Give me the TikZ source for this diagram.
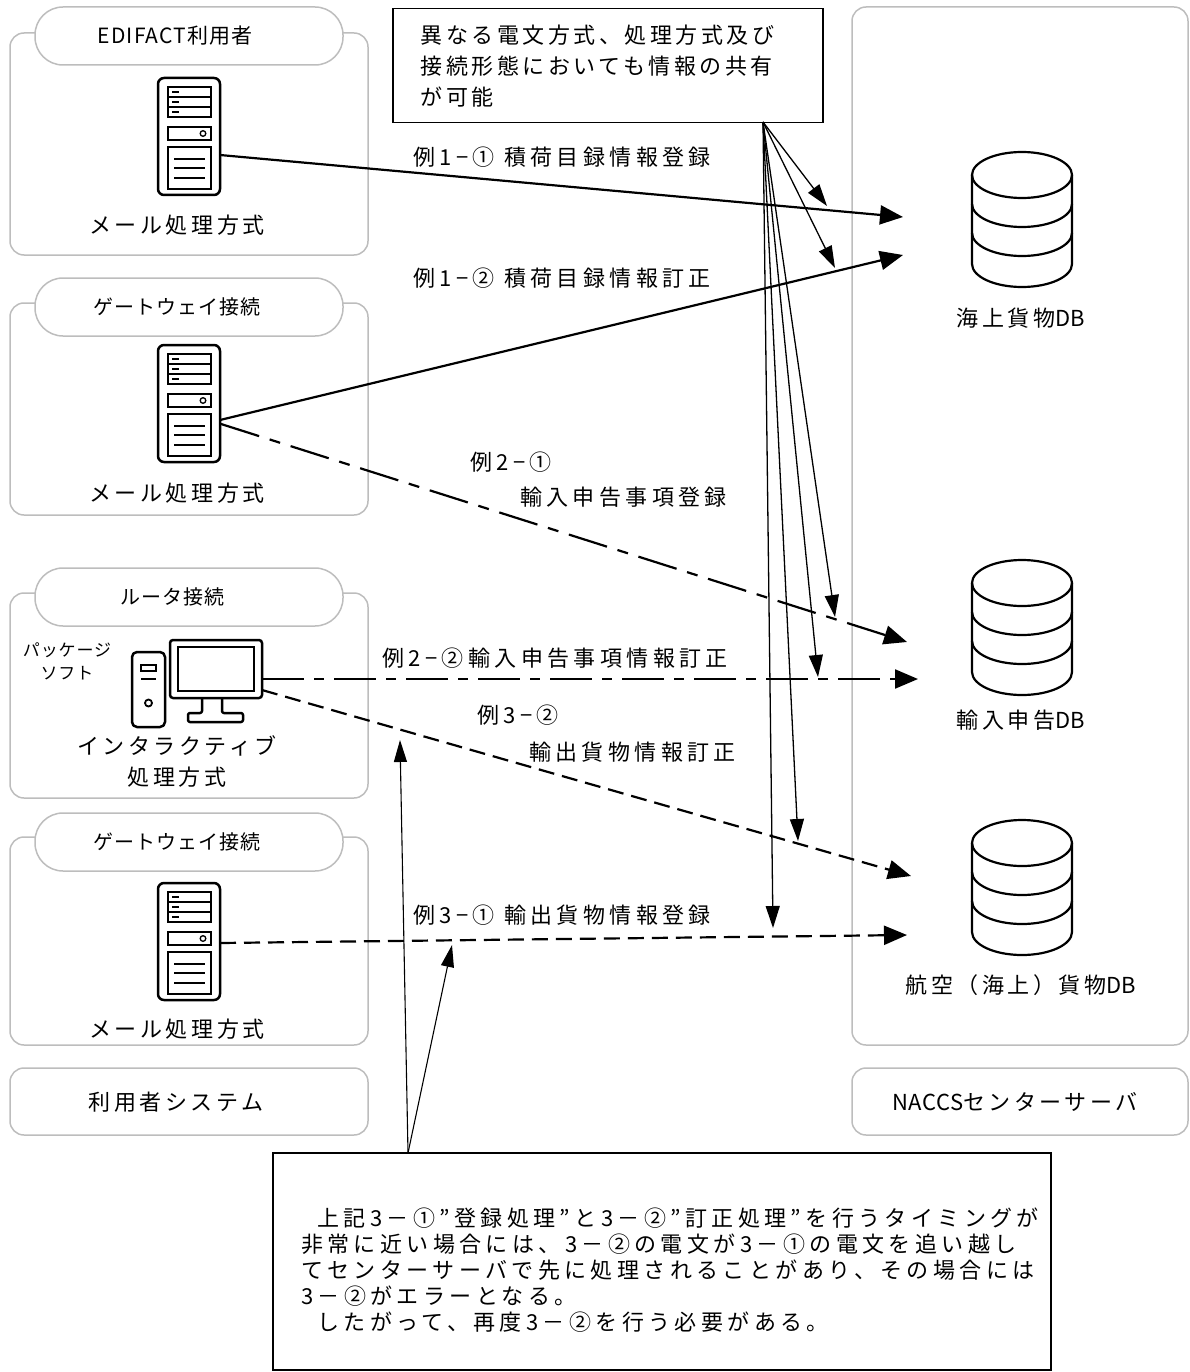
\documentclass[tikz,border=0pt]{standalone}
\usepackage{fontspec}
\setmainfont{Noto Sans CJK JP}
\newfontfamily\jpM[LetterSpace=16]{Noto Sans CJK JP}
\newfontfamily\jpL[LetterSpace=20]{Noto Sans CJK JP}
\newfontfamily\jpS[LetterSpace=5]{Noto Sans CJK JP}
\newfontfamily\latn[LetterSpace=2]{Noto Sans CJK JP}
\usetikzlibrary{arrows.meta,calc}
\definecolor{gborder}{HTML}{BDBDBD}
\tikzset{
  grp/.style={draw=gborder, line width=1.5pt, rounded corners=14pt},
  tabshape/.style={draw=gborder, fill=white, line width=1.5pt, rounded corners=28pt},
  lbl/.style={font=\jpM\fontsize{22}{31}\selectfont, inner sep=0pt},
  arrlbl/.style={font=\jpL\fontsize{22}{31}\selectfont, inner sep=0pt, anchor=west},
  tablbl/.style={font=\jpS\fontsize{20}{24}\selectfont, inner sep=0pt},
  smalllbl/.style={font=\jpS\fontsize{17}{23}\selectfont, inner sep=0pt, align=center},
  flow/.style={line width=2.2pt, -{Triangle[length=23pt,width=19pt]}},
  fan/.style={line width=1.3pt, -{Triangle[length=22pt,width=14pt]}},
  noteline/.style={line width=1.1pt, -{Triangle[length=22pt,width=13pt]}},
  dashA/.style={dash pattern=on 40pt off 11pt on 11pt off 11pt},
  dashB/.style={dash pattern=on 42pt off 10pt on 10pt off 10pt},
  dashC/.style={dash pattern=on 16pt off 8pt},
  iconthick/.style={line width=2.5pt, line join=round},
  iconthin/.style={line width=1.8pt},
  iconfine/.style={line width=1.3pt},
  dbline/.style={line width=2.2pt}
}
\newcommand\serverIcon[2]{%
  \begin{scope}[shift={(#1,#2)}]
    \draw[iconthick, rounded corners=6pt] (0,0) rectangle (62,117);
    \draw[iconthin] (10,9) rectangle (53,39) (10,19) -- (53,19) (10,29) -- (53,29)
      (10,49) rectangle (53,62) (10,69) rectangle (53,111);
    \draw[iconfine] (14,14)--(21,14) (14,24)--(21,24) (14,34)--(21,34)
      (16,81)--(47,81) (16,90)--(47,90) (16,100)--(47,100);
    \draw[iconfine] (45,55.5) circle[radius=2.8pt];
  \end{scope}}
\newcommand\dbIcon[1]{%
  \begin{scope}[shift={(1022,#1)}]
    \draw[dbline] (0,23) ellipse[x radius=50pt, y radius=23pt];
    \draw[dbline] (-50,23) -- (-50,112) arc[start angle=180,end angle=360,x radius=50pt,y radius=23pt] -- (50,23);
    \draw[dbline] (-50,52) arc[start angle=180,end angle=360,x radius=50pt,y radius=23pt];
    \draw[dbline] (-50,81) arc[start angle=180,end angle=360,x radius=50pt,y radius=23pt];
  \end{scope}}
\begin{document}
\begin{tikzpicture}[x=1pt,y=-1pt]
\useasboundingbox (0,0) rectangle (1190,1372);

% ---------- left group panels ----------
\draw[grp] (10,33) rectangle (368,255);
\draw[tabshape] (35,7) rectangle (343,65);
\draw[grp] (10,303) rectangle (368,515);
\draw[tabshape] (35,278) rectangle (343,336);
\draw[grp] (10,593) rectangle (368,798);
\draw[tabshape] (35,568) rectangle (343,626);
\draw[grp] (10,837) rectangle (368,1045);
\draw[tabshape] (35,813) rectangle (343,871);
\draw[grp] (10,1068) rectangle (368,1135);

% ---------- right panels ----------
\draw[grp] (852,7) rectangle (1188,1045);
\draw[grp] (852,1068) rectangle (1188,1135);

% ---------- tab labels ----------
\node[tablbl] (t1) at (175,36) {\fontsize{21}{24}\selectfont EDIFACT利用者};
\node[tablbl] (t2) at (177,307) {ゲートウェイ接続};
\node[tablbl] (t3) at (172,597) {ルータ接続};
\node[tablbl] (t4) at (177,842) {ゲートウェイ接続};

% ---------- icons ----------
\serverIcon{158}{78}
\serverIcon{158}{345}
\serverIcon{158}{883}

% PC (tower + monitor)
\draw[iconthick, rounded corners=5pt] (132,652) rectangle (165,727);
\draw[iconthin] (141,665) rectangle (156,671);
\draw[iconthin] (141,679) -- (156,679);
\draw[iconthin] (148.5,703) circle[radius=3.5pt];
\draw[iconthick, rounded corners=3pt] (170,640) rectangle (262,698);
\draw[iconthin] (178,647) rectangle (254,691);
\draw[iconthick, rounded corners=2pt] (202,698) -- (202,713) -- (188,713) -- (188,722) -- (243,722) -- (243,713) -- (222,713) -- (222,698);

% ---------- panel labels ----------
\node[lbl] (m1) at (177,225) {メール処理方式};
\node[lbl] (m2) at (177,493) {メール処理方式};
\node[lbl, align=center, font=\jpM\fontsize{22}{31}\selectfont] (m3) at (177,761) {インタラクティブ\\処理方式};
\node[smalllbl] (pkg) at (67,661) {パッケージ\\ソフト};
\node[lbl] (m4) at (177,1029) {メール処理方式};
\node[lbl] (usr) at (176,1102) {利用者システム};
\node[lbl] (naccs) at (1015,1102) {{\latn NACCS}センターサーバ};

% ---------- databases ----------
\dbIcon{152}
\dbIcon{560}
\dbIcon{820}
\node[lbl] (db1) at (1021,318) {海上貨物{\latn DB}};
\node[lbl] (db2) at (1021,720) {輸入申告{\latn DB}};
\node[lbl] (db3) at (1021,985) {航空（海上）貨物{\latn DB}};

% ---------- callout ----------
\node[lbl, draw, line width=1.5pt, anchor=north west, text width=374pt, inner xsep=28pt,
      minimum height=114pt, align=left] (callout) at (392,8)
  {異なる電文方式、処理方式及び\\接続形態においても情報の共有\\が可能};

% ---------- flow endpoints ----------
\coordinate (s1) at (220,155);  \coordinate (d1) at (903,217);
\coordinate (s2) at (220,420);  \coordinate (d2) at (903,255);
\coordinate (s3) at (221,424);  \coordinate (d3) at (907,642);
\coordinate (s4) at (262,679);  \coordinate (d4) at (918,679);
\coordinate (s5) at (262,690);  \coordinate (d5) at (911,876);
\coordinate (s6) at (220,943);  \coordinate (d6) at (907,935);

\draw[flow] (s1) -- (d1);
\draw[flow] (s2) -- (d2);
\draw[flow, dashA] (s3) -- (d3);
\draw[flow, dashB] (s4) -- (d4);
\draw[flow, dashC] (s5) -- (d5);
\draw[flow, dashC] (s6) -- (d6);

% ---------- flow labels ----------
\node[arrlbl] (l1) at (413,157) {例1−① 積荷目録情報登録};
\node[arrlbl] (l2) at (413,278) {例1−② 積荷目録情報訂正};
\node[arrlbl] (l3a) at (470,462) {例2−①};
\node[arrlbl] (l3b) at (520,497) {輸入申告事項登録};
\node[arrlbl] (l4) at (382,658) {例2−②輸入申告事項情報訂正};
\node[arrlbl] (l5a) at (477,715) {例3−②};
\node[arrlbl] (l5b) at (529,752) {輸出貨物情報訂正};
\node[arrlbl] (l6) at (413,915) {例3−① 輸出貨物情報登録};

% ---------- callout fan ----------
\coordinate (co) at (763,122);
\coordinate (f1) at (827,206);
\coordinate (f2) at (835,268);
\coordinate (f3) at (835,617);
\coordinate (f4) at (818,677);
\coordinate (f5) at (798,841);
\coordinate (f6) at (773,928);
\foreach \f in {f1,f2,f3,f4,f5,f6} \draw[fan] (co) -- (\f);

% ---------- note ----------
\draw[line width=1.5pt] (273,1153) rectangle (1051,1370);
\coordinate (nt) at (408,1153);
\coordinate (n1) at (400,740);
\coordinate (n2) at (452,945);
\draw[noteline] (nt) -- (n1);
\draw[noteline] (nt) -- (n2);
\node[lbl, anchor=west, align=left, font=\jpL\fontsize{22}{26}\selectfont] (note) at (301,1270)
  {\hspace*{16pt}上記3－①”登録処理”と3－②”訂正処理”を行うタイミングが\\
   非常に近い場合には、3－②の電文が3－①の電文を追い越し\\
   てセンターサーバで先に処理されることがあり、その場合には\\
   3－②がエラーとなる。\\
   \hspace*{16pt}したがって、再度3－②を行う必要がある。};
\end{tikzpicture}
\end{document}
